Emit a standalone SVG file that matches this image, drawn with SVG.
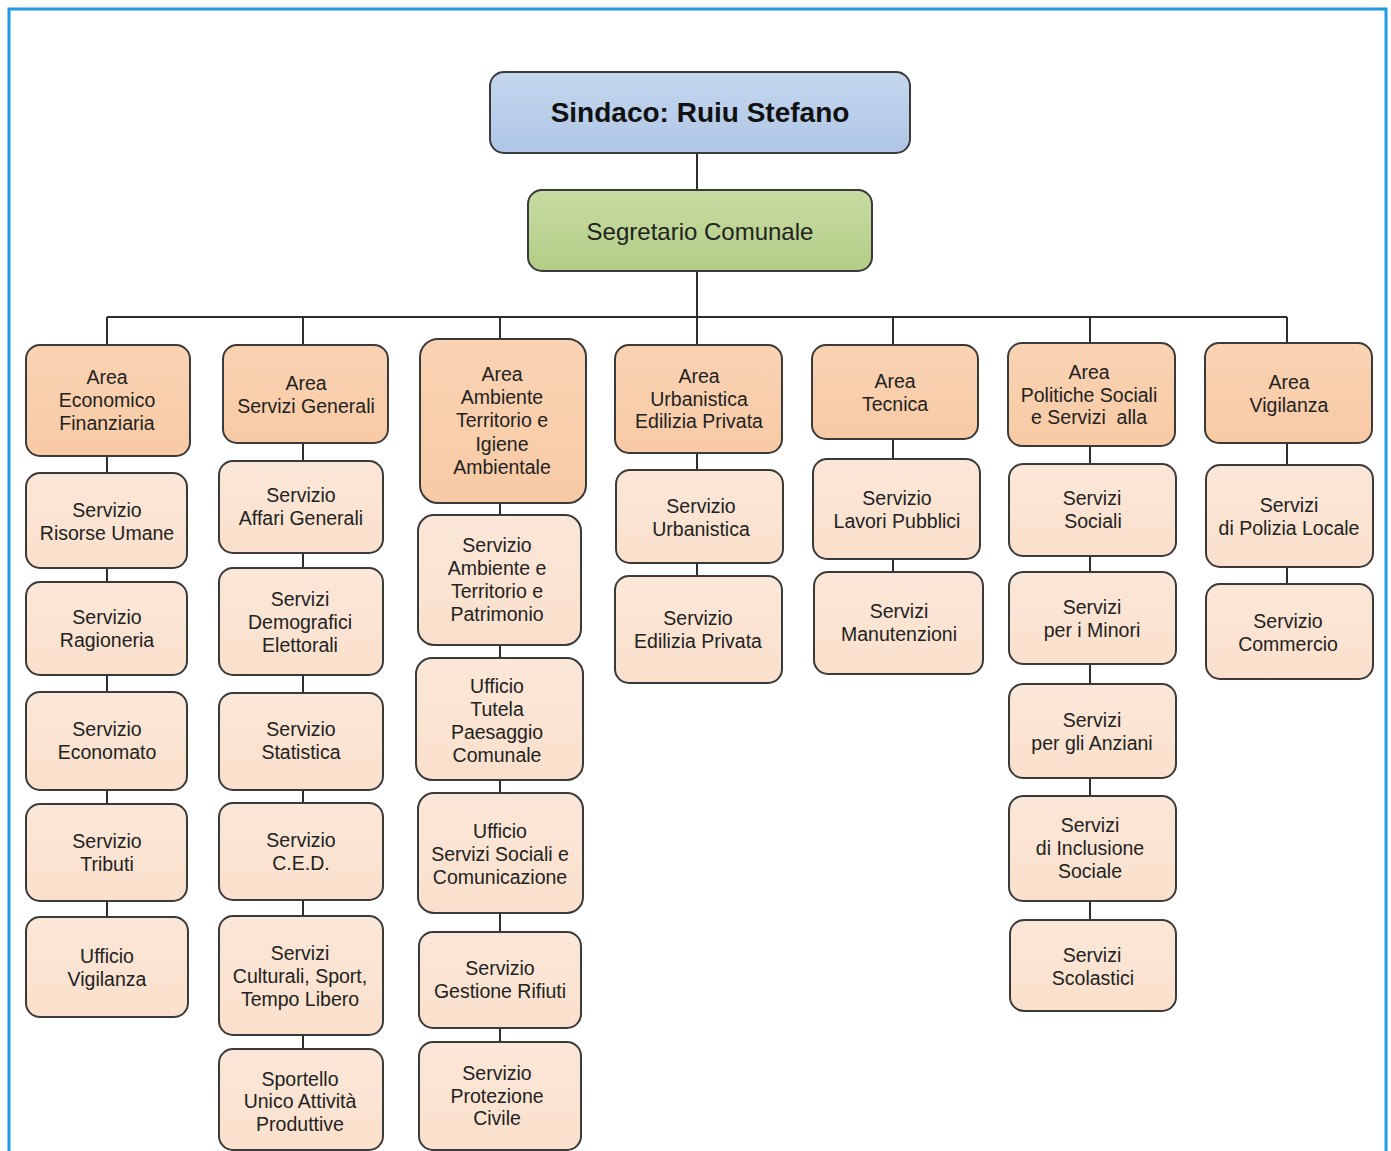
<svg xmlns="http://www.w3.org/2000/svg" width="1391" height="1151" viewBox="0 0 1391 1151">
<defs>
<linearGradient id="gArea" x1="0" y1="0" x2="0" y2="1">
<stop offset="0" stop-color="#f9d3b3"/><stop offset="1" stop-color="#f8caa5"/>
</linearGradient>
<linearGradient id="gSvc" x1="0" y1="0" x2="0" y2="1">
<stop offset="0" stop-color="#fbe7d8"/><stop offset="1" stop-color="#fae0cc"/>
</linearGradient>
<linearGradient id="gTop" x1="0" y1="0" x2="0" y2="1">
<stop offset="0" stop-color="#c5d7ee"/><stop offset="1" stop-color="#afc6e6"/>
</linearGradient>
<linearGradient id="gSeg" x1="0" y1="0" x2="0" y2="1">
<stop offset="0" stop-color="#c7dca2"/><stop offset="1" stop-color="#b3cd86"/>
</linearGradient>
</defs>
<style>
.box{stroke:#3a3a3a;stroke-width:2}
.area{fill:url(#gArea)}
.svc{fill:url(#gSvc)}
.t{font-family:"Liberation Sans",Arial,sans-serif;font-size:19.5px;fill:#222;text-anchor:middle;dominant-baseline:central}
.con{stroke:#2e2e2e;stroke-width:2;fill:none}
</style>
<rect x="0" y="0" width="1391" height="1151" fill="#ffffff"/>
<rect x="9" y="9" width="1377" height="1160" fill="#ffffff" stroke="#1e9be3" stroke-width="3"/>

<g id="connectors">
<path class="con" d="M697 153V190M697 271V317M107 317H1287M107 317V917M303 317V1049M500 317V1042M697 317V576M893 317V572M1090 317V920M1287 317V584"/>
</g>

<g id="sindaco">
<rect class="box" x="490" y="72" width="420" height="81" rx="14" fill="url(#gTop)"/>
<text class="t" x="700" y="112" style="font-size:28px;font-weight:bold;fill:#111">Sindaco: Ruiu Stefano</text>
</g>
<g id="segretario">
<rect class="box" x="528" y="190" width="344" height="81" rx="14" fill="url(#gSeg)"/>
<text class="t" x="700" y="231" style="font-size:24px">Segretario Comunale</text>
</g>

<!-- Column 1 -->
<g id="area-economico">
<rect class="box area" x="26" y="345" width="164" height="111" rx="14"/>
<text class="t" x="107" y="377">Area</text><text class="t" x="107" y="400">Economico</text><text class="t" x="107" y="423">Finanziaria</text>
</g>
<g id="risorse-umane">
<rect class="box svc" x="26" y="473" width="161" height="95" rx="14"/>
<text class="t" x="107" y="510">Servizio</text><text class="t" x="107" y="533">Risorse Umane</text>
</g>
<g id="ragioneria">
<rect class="box svc" x="26" y="582" width="161" height="93" rx="14"/>
<text class="t" x="107" y="617">Servizio</text><text class="t" x="107" y="640">Ragioneria</text>
</g>
<g id="economato">
<rect class="box svc" x="26" y="692" width="161" height="98" rx="14"/>
<text class="t" x="107" y="729">Servizio</text><text class="t" x="107" y="752">Economato</text>
</g>
<g id="tributi">
<rect class="box svc" x="26" y="804" width="161" height="97" rx="14"/>
<text class="t" x="107" y="841">Servizio</text><text class="t" x="107" y="864">Tributi</text>
</g>
<g id="ufficio-vigilanza">
<rect class="box svc" x="26" y="917" width="162" height="100" rx="14"/>
<text class="t" x="107" y="956">Ufficio</text><text class="t" x="107" y="979">Vigilanza</text>
</g>

<!-- Column 2 -->
<g id="area-servizi-generali">
<rect class="box area" x="223" y="345" width="165" height="98" rx="14"/>
<text class="t" x="306" y="383">Area</text><text class="t" x="306" y="406">Servizi Generali</text>
</g>
<g id="affari-generali">
<rect class="box svc" x="219" y="461" width="164" height="92" rx="14"/>
<text class="t" x="301" y="495">Servizio</text><text class="t" x="301" y="518">Affari Generali</text>
</g>
<g id="demografici">
<rect class="box svc" x="219" y="568" width="164" height="107" rx="14"/>
<text class="t" x="300" y="599">Servizi</text><text class="t" x="300" y="622">Demografici</text><text class="t" x="300" y="645">Elettorali</text>
</g>
<g id="statistica">
<rect class="box svc" x="219" y="693" width="164" height="97" rx="14"/>
<text class="t" x="301" y="729">Servizio</text><text class="t" x="301" y="752">Statistica</text>
</g>
<g id="ced">
<rect class="box svc" x="219" y="803" width="164" height="97" rx="14"/>
<text class="t" x="301" y="840">Servizio</text><text class="t" x="301" y="863">C.E.D.</text>
</g>
<g id="culturali">
<rect class="box svc" x="219" y="916" width="164" height="119" rx="14"/>
<text class="t" x="300" y="953">Servizi</text><text class="t" x="300" y="976">Culturali, Sport,</text><text class="t" x="300" y="999">Tempo Libero</text>
</g>
<g id="sportello">
<rect class="box svc" x="219" y="1049" width="164" height="101" rx="14"/>
<text class="t" x="300" y="1079">Sportello</text><text class="t" x="300" y="1101">Unico Attività</text><text class="t" x="300" y="1124">Produttive</text>
</g>

<!-- Column 3 -->
<g id="area-ambiente">
<rect class="box area" x="420" y="339" width="166" height="164" rx="18"/>
<text class="t" x="502" y="374">Area</text><text class="t" x="502" y="397">Ambiente</text><text class="t" x="502" y="420">Territorio e</text><text class="t" x="502" y="444">Igiene</text><text class="t" x="502" y="467">Ambientale</text>
</g>
<g id="ambiente-territorio">
<rect class="box svc" x="418" y="515" width="163" height="130" rx="16"/>
<text class="t" x="497" y="545">Servizio</text><text class="t" x="497" y="568">Ambiente e</text><text class="t" x="497" y="591">Territorio e</text><text class="t" x="497" y="614">Patrimonio</text>
</g>
<g id="tutela-paesaggio">
<rect class="box svc" x="416" y="658" width="167" height="122" rx="16"/>
<text class="t" x="497" y="686">Ufficio</text><text class="t" x="497" y="709">Tutela</text><text class="t" x="497" y="732">Paesaggio</text><text class="t" x="497" y="755">Comunale</text>
</g>
<g id="servizi-sociali-comunicazione">
<rect class="box svc" x="418" y="793" width="165" height="120" rx="16"/>
<text class="t" x="500" y="831">Ufficio</text><text class="t" x="500" y="854">Servizi Sociali e</text><text class="t" x="500" y="877">Comunicazione</text>
</g>
<g id="gestione-rifiuti">
<rect class="box svc" x="419" y="932" width="162" height="96" rx="14"/>
<text class="t" x="500" y="968">Servizio</text><text class="t" x="500" y="991">Gestione Rifiuti</text>
</g>
<g id="protezione-civile">
<rect class="box svc" x="419" y="1042" width="162" height="108" rx="14"/>
<text class="t" x="497" y="1073">Servizio</text><text class="t" x="497" y="1096">Protezione</text><text class="t" x="497" y="1118">Civile</text>
</g>

<!-- Column 4 -->
<g id="area-urbanistica">
<rect class="box area" x="615" y="345" width="167" height="108" rx="14"/>
<text class="t" x="699" y="376">Area</text><text class="t" x="699" y="399">Urbanistica</text><text class="t" x="699" y="421">Edilizia Privata</text>
</g>
<g id="urbanistica">
<rect class="box svc" x="616" y="470" width="167" height="93" rx="14"/>
<text class="t" x="701" y="506">Servizio</text><text class="t" x="701" y="529">Urbanistica</text>
</g>
<g id="edilizia-privata">
<rect class="box svc" x="615" y="576" width="167" height="107" rx="14"/>
<text class="t" x="698" y="618">Servizio</text><text class="t" x="698" y="641">Edilizia Privata</text>
</g>

<!-- Column 5 -->
<g id="area-tecnica">
<rect class="box area" x="812" y="345" width="166" height="94" rx="14"/>
<text class="t" x="895" y="381">Area</text><text class="t" x="895" y="404">Tecnica</text>
</g>
<g id="lavori-pubblici">
<rect class="box svc" x="813" y="459" width="167" height="100" rx="14"/>
<text class="t" x="897" y="498">Servizio</text><text class="t" x="897" y="521">Lavori Pubblici</text>
</g>
<g id="manutenzioni">
<rect class="box svc" x="814" y="572" width="169" height="102" rx="14"/>
<text class="t" x="899" y="611">Servizi</text><text class="t" x="899" y="634">Manutenzioni</text>
</g>

<!-- Column 6 -->
<g id="area-politiche-sociali">
<rect class="box area" x="1008" y="343" width="167" height="103" rx="14"/>
<text class="t" x="1089" y="372">Area</text><text class="t" x="1089" y="395">Politiche Sociali</text><text class="t" x="1089" y="417" xml:space="preserve">e Servizi  alla</text>
</g>
<g id="servizi-sociali">
<rect class="box svc" x="1009" y="464" width="167" height="92" rx="14"/>
<text class="t" x="1092" y="498">Servizi</text><text class="t" x="1093" y="521">Sociali</text>
</g>
<g id="minori">
<rect class="box svc" x="1009" y="572" width="167" height="92" rx="14"/>
<text class="t" x="1092" y="607">Servizi</text><text class="t" x="1092" y="630">per i Minori</text>
</g>
<g id="anziani">
<rect class="box svc" x="1009" y="684" width="167" height="94" rx="14"/>
<text class="t" x="1092" y="720">Servizi</text><text class="t" x="1092" y="743">per gli Anziani</text>
</g>
<g id="inclusione">
<rect class="box svc" x="1009" y="796" width="167" height="105" rx="14"/>
<text class="t" x="1090" y="825">Servizi</text><text class="t" x="1090" y="848">di Inclusione</text><text class="t" x="1090" y="871">Sociale</text>
</g>
<g id="scolastici">
<rect class="box svc" x="1010" y="920" width="166" height="91" rx="14"/>
<text class="t" x="1092" y="955">Servizi</text><text class="t" x="1093" y="978">Scolastici</text>
</g>

<!-- Column 7 -->
<g id="area-vigilanza">
<rect class="box area" x="1205" y="343" width="167" height="100" rx="14"/>
<text class="t" x="1289" y="382">Area</text><text class="t" x="1289" y="405">Vigilanza</text>
</g>
<g id="polizia-locale">
<rect class="box svc" x="1206" y="465" width="167" height="102" rx="14"/>
<text class="t" x="1289" y="505">Servizi</text><text class="t" x="1289" y="528">di Polizia Locale</text>
</g>
<g id="commercio">
<rect class="box svc" x="1206" y="584" width="167" height="95" rx="14"/>
<text class="t" x="1288" y="621">Servizio</text><text class="t" x="1288" y="644">Commercio</text>
</g>
</svg>
